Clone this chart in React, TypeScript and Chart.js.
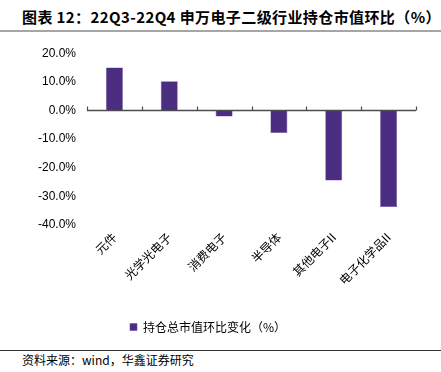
import React, { useEffect, useRef } from 'react';
import { Chart, registerables } from 'chart.js';

Chart.register(...registerables);

const categories = ['元件', '光学光电子', '消费电子', '半导体', '其他电子II', '电子化学品II'];
const values = [15.0, 10.2, -2.1, -7.9, -24.5, -33.7];
const seriesLabel = '持仓总市值环比变化（%）';
const yMin = -40;
const yMax = 20;
const yStep = 10;

const titleText = '图表 12：22Q3-22Q4 申万电子二级行业持仓市值环比（%）';
const sourceText = '资料来源：wind，华鑫证券研究';

const BAR = '#4b2d82';

const zeroAxisPlugin = {
  id: 'zeroAxis',
  afterDatasetsDraw(chart: any) {
    const { ctx, chartArea, scales } = chart;
    const y0 = Math.round(scales.y.getPixelForValue(0)) + 0.5;
    ctx.save();
    ctx.strokeStyle = '#4d4d4d';
    ctx.lineWidth = 1.5;
    ctx.beginPath();
    ctx.moveTo(chartArea.left, y0);
    ctx.lineTo(chartArea.right, y0);
    ctx.stroke();
    ctx.lineWidth = 1.2;
    for (let i = 0; i <= categories.length; i++) {
      const x = Math.round(scales.x.getPixelForValue(i - 0.5)) + 0.5;
      ctx.beginPath();
      ctx.moveTo(x, y0);
      ctx.lineTo(x, y0 - 4);
      ctx.stroke();
    }
    ctx.restore();
  },
};

export default function App() {
  const ref = useRef<HTMLCanvasElement>(null);
  useEffect(() => {
    if (!ref.current) return;
    const chart = new Chart(ref.current, {
      type: 'bar',
      data: {
        labels: categories,
        datasets: [
          {
            label: seriesLabel,
            data: values,
            backgroundColor: BAR,
            borderColor: '#6a52a0',
            borderWidth: 0.6,
            categoryPercentage: 1,
            barPercentage: 0.31,
          },
        ],
      },
      options: {
        animation: false,
        responsive: false,
        maintainAspectRatio: false,
        layout: { padding: { top: 0, right: 25, bottom: 0, left: 0 } },
        plugins: {
          legend: {
            position: 'bottom',
            labels: {
              boxWidth: 7,
              boxHeight: 7,
              padding: 8,
              color: '#000',
              font: { family: '"Noto Sans CJK SC"', size: 12 },
            },
          },
          tooltip: { enabled: false },
        },
        scales: {
          x: {
            grid: { display: false, drawTicks: false },
            border: { display: false },
            ticks: {
              minRotation: 45,
              maxRotation: 45,
              color: '#000',
              padding: 5,
              font: { family: '"Noto Sans CJK SC"', size: 12 },
            },
            afterFit: (s: any) => {
              s.height = 88;
            },
          },
          y: {
            min: yMin,
            max: yMax,
            grid: { display: false, drawTicks: false },
            border: { display: false },
            ticks: {
              stepSize: yStep,
              color: '#000',
              padding: 11,
              font: { family: '"Liberation Sans", Arial, sans-serif', size: 12 },
              callback: (v: any) => Number(v).toFixed(1) + '%',
            },
            afterFit: (s: any) => {
              s.width = 87;
            },
          },
        },
      },
      plugins: [zeroAxisPlugin],
    });
    return () => chart.destroy();
  }, []);

  return (
    <div style={{ position: 'fixed', left: 0, top: 0, width: 441, height: 372, background: '#fff', overflow: 'hidden' }}>
      <div
        style={{
          position: 'absolute',
          left: 22,
          top: 7,
          fontFamily: '"Noto Sans CJK SC", sans-serif',
          fontWeight: 700,
          fontSize: 15,
          letterSpacing: 0.4,
          lineHeight: '20px',
          color: '#000',
          whiteSpace: 'nowrap',
        }}
      >
        {titleText}
      </div>
      <div style={{ position: 'absolute', left: 0, top: 30, width: 441, height: 1.5, background: '#a6a6a6' }} />
      <canvas ref={ref} width={441} height={308} style={{ position: 'absolute', left: 0, top: 35, width: 441, height: 308 }} />
      <div style={{ position: 'absolute', left: 0, top: 350, width: 441, height: 1, background: '#333' }} />
      <div
        style={{
          position: 'absolute',
          left: 22,
          top: 351,
          fontFamily: '"Noto Sans CJK SC", sans-serif',
          fontSize: 12,
          lineHeight: '17px',
          color: '#000',
          whiteSpace: 'nowrap',
        }}
      >
        {sourceText}
      </div>
    </div>
  );
}
